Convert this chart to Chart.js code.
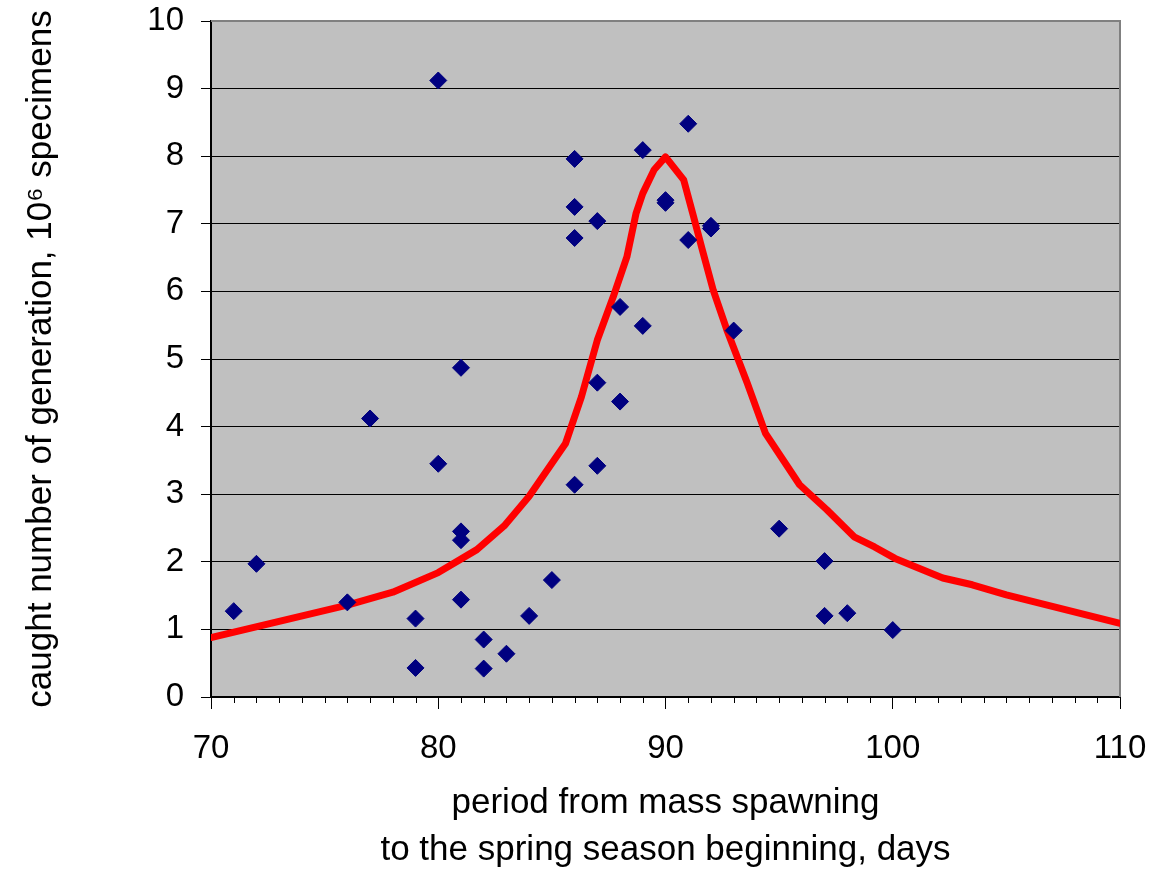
<!DOCTYPE html>
<html>
<head>
<meta charset="utf-8">
<script src="https://cdn.jsdelivr.net/npm/chart.js@4"></script>
<style>
  html, body { margin: 0; padding: 0; background: #fff; }
  #wrap { width: 1157px; height: 869px; }
</style>
</head>
<body>
<div id="wrap"><canvas id="chart" width="1157" height="869"></canvas></div>
<script>
// observed catches (days, 10^6 specimens)
const obsDays = [71, 72, 76, 77, 79, 79, 80, 80, 81, 81, 81, 81, 82, 82, 83, 84, 85, 86, 86, 86,
                 86, 87, 87, 87, 88, 88, 89, 89, 90, 90, 91, 91, 92, 92, 93, 95, 97, 97, 98, 100];
const obsCatch = [1.27, 1.97, 1.40, 4.12, 1.16, 0.43, 9.12, 3.45, 4.87, 2.45, 2.32, 1.44, 0.85, 0.42, 0.64, 1.20, 1.73, 7.96, 7.25, 6.79,
                  3.14, 7.04, 4.65, 3.42, 5.77, 4.37, 8.09, 5.49, 7.35, 7.31, 8.48, 6.76, 6.97, 6.93, 5.42, 2.49, 2.01, 1.20, 1.24, 0.99];

// fitted curve
const fitDays = [70, 76, 78, 80, 81.7, 82.9, 84, 85.6, 86.3, 87, 87.7, 88.3, 88.7, 89, 89.5, 90,
                 90.8, 91.2, 91.6, 92.1, 92.7, 93.6, 94.4, 95.9, 97.1, 98.3, 99.2, 100.1, 102.2, 103.5, 105, 110];
const fitCatch = [0.88, 1.36, 1.55, 1.84, 2.18, 2.53, 2.97, 3.75, 4.44, 5.28, 5.92, 6.51, 7.15, 7.45, 7.8, 7.99,
                  7.65, 7.15, 6.64, 6.02, 5.43, 4.64, 3.90, 3.14, 2.77, 2.37, 2.22, 2.05, 1.76, 1.66, 1.51, 1.09];

const xMin = 70, xMax = 110;
const yMin = 0, yMax = 10;

const FONT = "'Liberation Sans', Arial, sans-serif";

// gray plot area, frame and minor ticks on x
const plotDeco = {
  id: "plotDeco",
  beforeDraw(chart) {
    const { ctx, chartArea: a } = chart;
    ctx.save();
    ctx.fillStyle = "#c0c0c0";
    ctx.fillRect(a.left, a.top, a.right - a.left, a.bottom - a.top);
    ctx.restore();
  },
  beforeDatasetsDraw(chart) {
    const { ctx, chartArea: a, scales } = chart;
    ctx.save();
    ctx.strokeStyle = "#808080";
    ctx.lineWidth = 2;
    ctx.beginPath();
    ctx.moveTo(a.left, a.top);
    ctx.lineTo(a.right, a.top);
    ctx.lineTo(a.right, a.bottom);
    ctx.stroke();

    ctx.strokeStyle = "#000";
    ctx.lineWidth = 1;
    ctx.beginPath();
    for (let v = xMin + 1; v < xMax; v++) {
      if (v % 10 === 0) continue;
      const px = Math.round(scales.x.getPixelForValue(v)) + 0.5;
      ctx.moveTo(px, a.bottom);
      ctx.lineTo(px, a.bottom + 6);
    }
    ctx.stroke();
    ctx.restore();
  }
};

// drop the label overflow padding so layout.padding alone places the plot box
function noOverflow(scale) {
  scale.paddingTop = 0;
  scale.paddingBottom = 0;
  scale.paddingLeft = 0;
  scale.paddingRight = 0;
}

const ctx = document.getElementById("chart").getContext("2d");
const chart = new Chart(ctx, {
  type: "scatter",
  data: {
    datasets: [
      {
        label: "observed",
        data: obsDays.map((d, i) => ({ x: d, y: obsCatch[i] })),
        pointStyle: "rectRot",
        pointRadius: 8.5,
        backgroundColor: "#000080",
        borderColor: "#000080",
        borderWidth: 1,
        order: 0
      },
      {
        label: "fit",
        data: fitDays.map((d, i) => ({ x: d, y: fitCatch[i] })),
        showLine: true,
        borderColor: "#ff0000",
        borderWidth: 7,
        borderCapStyle: "round",
        borderJoinStyle: "round",
        pointRadius: 0,
        tension: 0,
        order: 1
      }
    ]
  },
  options: {
    responsive: false,
    animation: false,
    layout: { padding: { left: 0, right: 37, top: 21, bottom: 0 } },
    plugins: { legend: { display: false }, tooltip: { enabled: false } },
    scales: {
      x: {
        type: "linear",
        min: xMin,
        max: xMax,
        afterFit(scale) { scale.height = 172; noOverflow(scale); },
        ticks: { stepSize: 10, color: "#000", padding: 20, font: { family: FONT, size: 33 } },
        grid: { drawOnChartArea: false, tickLength: 12, tickColor: "#000", tickWidth: 1 },
        border: { color: "#000", width: 2 },
        title: {
          display: true,
          text: ["period from mass spawning", "to the spring season beginning, days"],
          color: "#000",
          font: { family: FONT, size: 35, lineHeight: "47px" },
          padding: { top: 0, bottom: -5 }
        }
      },
      y: {
        min: yMin,
        max: yMax,
        afterFit(scale) { scale.width = 211; noOverflow(scale); },
        ticks: { stepSize: 1, color: "#000", padding: 17, font: { family: FONT, size: 33 } },
        grid: {
          color: c => (c.tick && c.tick.value === yMax ? "rgba(0,0,0,0)" : "#000"),
          lineWidth: 1,
          tickLength: 10,
          tickColor: "#000"
        },
        border: { color: "#000", width: 2 },
        title: {
          display: true,
          text: "caught number of generation, 10\u2076 specimens",
          color: "#000",
          font: { family: FONT, size: 35 },
          padding: { top: 20, bottom: 0 }
        }
      }
    }
  },
  plugins: [plotDeco]
});
</script>
</body>
</html>
